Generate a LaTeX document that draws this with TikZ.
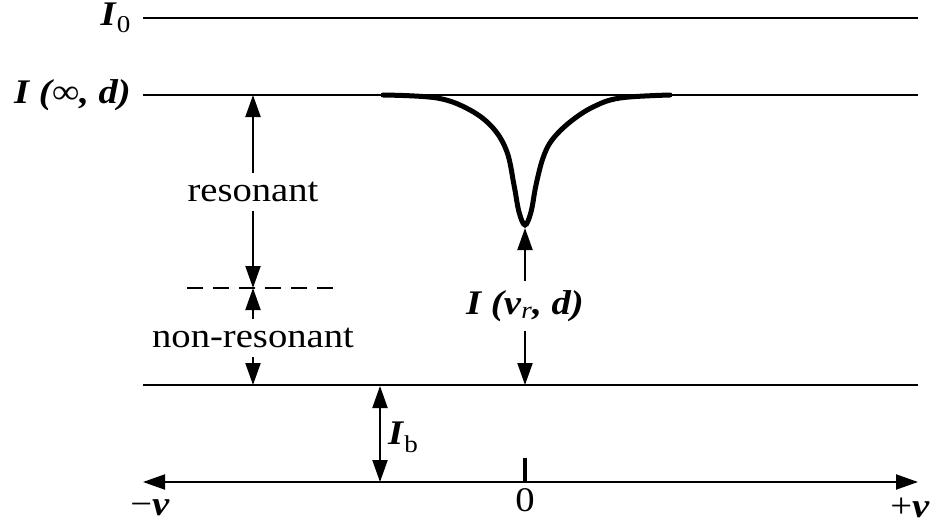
\documentclass[tikz,border=0pt]{standalone}
\usepackage{fontspec}
\setmainfont{Liberation Serif}[FakeStretch=1.12]
\usetikzlibrary{arrows.meta}
\newcommand{\bi}[1]{\textbf{\textit{#1}}}

\begin{document}
\begin{tikzpicture}[x=1pt,y=-1pt,font=\fontsize{34.5}{38}\selectfont,
  >={Triangle[length=22pt,width=15pt]},
  lvl/.style={line width=2pt},
  darr/.style={line width=2pt,->},
  lab/.style={inner sep=9pt}]
\useasboundingbox (0,0) rectangle (933,524);
% levels
\coordinate (i0l) at (143,18); \coordinate (i0r) at (918,18);
\coordinate (i1l) at (143,95); \coordinate (i1r) at (918,95);
\coordinate (bl) at (143,385); \coordinate (br) at (918,385);
\coordinate (axl) at (143,482); \coordinate (axr) at (918,482);
\draw[lvl] (i0l) -- (i0r); \draw[lvl] (i1l) -- (i1r); \draw[lvl] (bl) -- (br);
\node[anchor=east,inner sep=0pt] (i0) at (131,18) {\bi{I}\textsubscript{0}};
\node[anchor=east,inner sep=0pt] (i1) at (131,95) {\bi{I (∞, d)}};
% dip
\draw[line width=5pt,line cap=round] plot[smooth,tension=0.6] coordinates {(383,95) (437,98) (470,110) (493,128) (507,152) (514,185) (519,212) (525,225) (531,212) (536,185) (543,158) (552,140) (570,122) (593,107) (620,98) (670,95)};
\coordinate (dip) at (525,228);
% left side
\node[lab] (res) at (253,192) {resonant};
\node[lab] (nres) at (253,338) {non-resonant};
\coordinate (dl) at (187,288); \coordinate (dr) at (333,288);
\draw[lvl,dash pattern=on 16pt off 10pt] (dl) -- (dr);
\draw[darr] (res) -- (res |- i1l);
\draw[darr] (res) -- (res |- dl);
\draw[darr] (nres) -- (nres |- dl);
\draw[darr] (nres) -- (nres |- bl);
% centre label
\node[lab] (ivr) at (525,306) {\bi{I (ν}\textit{\textsubscript{r}}\bi{, d)}};
\draw[darr] (ivr) -- (dip);
\draw[darr] (ivr) -- (ivr |- bl);
% background level
\coordinate (ibt) at (380,386); \coordinate (ibb) at (380,482);
\draw[line width=2pt,<->] (ibt) -- (ibb);
\node[anchor=west,inner sep=0pt] (ib) at (388,437) {\bi{I}\textsubscript{b}};
% axis
\draw[line width=2pt,<->] (axl) -- (axr);
\coordinate (tk) at (525,458);
\draw[line width=4pt] (tk) -- (tk |- axl);
\node (zero) at (525,500) {0};
\node (mnu) at (150,508) {−\bi{ν}};
\node (pnu) at (910,508) {+\bi{ν}};
\end{tikzpicture}
\end{document}
